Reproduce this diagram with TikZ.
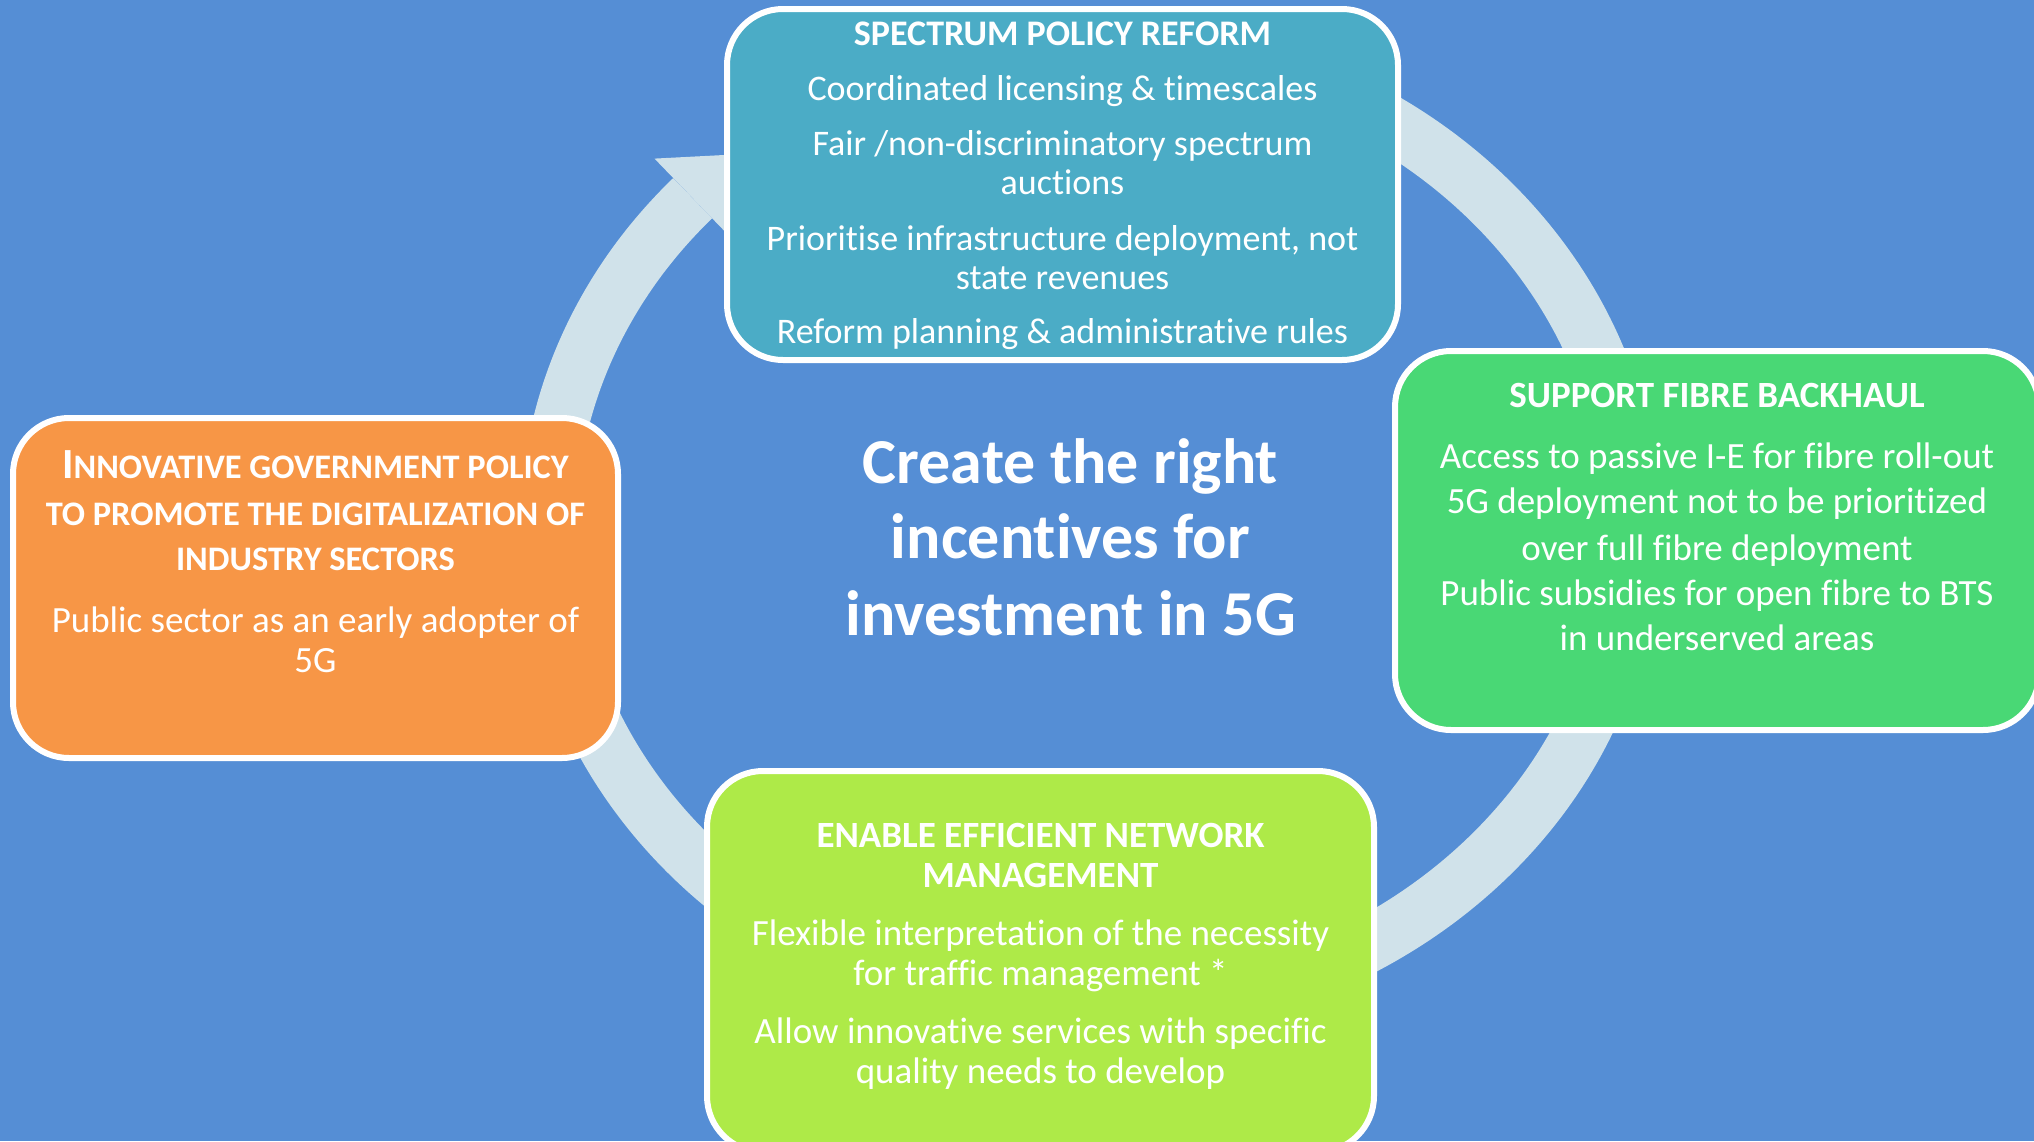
\documentclass[tikz,border=0pt]{standalone}
\usepackage{fontspec}
\setmainfont{Carlito}[Ligatures=NoCommon]
\definecolor{bgblue}{RGB}{85,142,213}
\definecolor{ringcol}{RGB}{208,226,234}
\definecolor{tealbox}{RGB}{75,172,198}
\definecolor{greenbox}{RGB}{73,216,117}
\definecolor{orangebox}{RGB}{247,150,70}
\definecolor{limebox}{RGB}{174,234,72}
\begin{document}
\begin{tikzpicture}[x=1pt,y=-1pt,
  panel/.style={draw=white, line width=6pt, rounded corners=56pt, inner sep=0pt},
  ttl/.style={text=white, anchor=base, inner sep=0pt, font=\bfseries\fontsize{37}{40}\selectfont},
  txt/.style={text=white, anchor=base, inner sep=0pt, font=\fontsize{37}{40}\selectfont},
  scttl/.style={text=white, anchor=base, inner sep=0pt, font=\bfseries\fontsize{34.4}{40}\selectfont},
  bigttl/.style={text=white, anchor=base, inner sep=0pt, font=\bfseries\fontsize{64}{76}\selectfont},
  ring/.style={draw=ringcol, line width=56pt}]
\useasboundingbox (0,0) rectangle (2034,1141);
\clip (0,0) rectangle (2034,1141);
\fill[bgblue] (0,0) rectangle (2034,1141);

% circular arrow
\coordinate (rc) at (1090,528);
\coordinate (ringstart) at (1184.1,50.4);
\draw[ring] (ringstart) arc[start angle=-80, end angle=222.85, x radius=542, y radius=485];
\coordinate (barbout) at (654.5,158.6);
\coordinate (tip) at (737.7,154.3);
\coordinate (barbin) at (730.6,237.4);
\fill[ringcol] (barbout) -- (tip) -- (barbin) -- cycle;

% panels
\node[panel, fill=tealbox, minimum width=671pt, minimum height=351pt] (spec) at (1062.5,184.5) {};
\node[panel, fill=greenbox, minimum width=644pt, minimum height=379pt] (fibre) at (1717,540.5) {};
\node[panel, fill=orangebox, minimum width=605pt, minimum height=340pt] (gov) at (315.5,588) {};
\node[panel, fill=limebox, minimum width=667pt, minimum height=381pt] (net) at (1040.5,961.5) {};

% top panel text
\node[ttl, font=\bfseries\fontsize{36}{40}\selectfont] (s0) at (1062.5,45) {SPECTRUM POLICY REFORM};
\node[txt, font=\fontsize{36}{40}\selectfont] (s1) at (1062.5,100) {Coordinated licensing \& timescales};
\node[txt, font=\fontsize{36}{40}\selectfont] (s2) at (1062.5,155) {Fair /non-discriminatory spectrum};
\node[txt, font=\fontsize{36}{40}\selectfont] (s3) at (1062.5,194) {auctions};
\node[txt, font=\fontsize{36}{40}\selectfont] (s4) at (1062.5,250) {Prioritise infrastructure deployment, not};
\node[txt, font=\fontsize{36}{40}\selectfont] (s5) at (1062.5,289) {state revenues};
\node[txt, font=\fontsize{36}{40}\selectfont] (s6) at (1062.5,343) {Reform planning \& administrative rules};

% right panel text
\node[ttl] (f0) at (1717,407) {SUPPORT FIBRE BACKHAUL};
\node[txt] (f1) at (1717,468) {Access to passive I-E for fibre roll-out};
\node[txt] (f2) at (1717,513) {5G deployment not to be prioritized};
\node[txt] (f3) at (1717,560) {over full fibre deployment};
\node[txt] (f4) at (1717,605) {Public subsidies for open fibre to BTS};
\node[txt] (f5) at (1717,650) {in underserved areas};

% left panel text
\node[scttl] (g0) at (315.5,478) {{\fontsize{43}{46}\selectfont I}NNOVATIVE GOVERNMENT POLICY};
\node[scttl] (g1) at (315.5,525) {TO PROMOTE THE DIGITALIZATION OF};
\node[scttl] (g2) at (315.5,570) {INDUSTRY SECTORS};
\node[txt] (g3) at (315.5,632) {Public sector as an early adopter of};
\node[txt] (g4) at (315.5,672) {5G};

% bottom panel text
\node[ttl] (n0) at (1040.5,847) {ENABLE EFFICIENT NETWORK};
\node[ttl] (n1) at (1040.5,887) {MANAGEMENT};
\node[txt] (n2) at (1040.5,945) {Flexible interpretation of the necessity};
\node[txt] (n3) at (1040.5,985) {for traffic management *};
\node[txt] (n4) at (1040.5,1043) {Allow innovative services with specific};
\node[txt] (n5) at (1040.5,1083) {quality needs to develop};

% centre title
\node[bigttl] (c1) at (1070.5,483) {Create the right};
\node[bigttl] (c2) at (1070.5,558) {incentives for};
\node[bigttl] (c3) at (1070.5,635) {investment in 5G};
\end{tikzpicture}
\end{document}
